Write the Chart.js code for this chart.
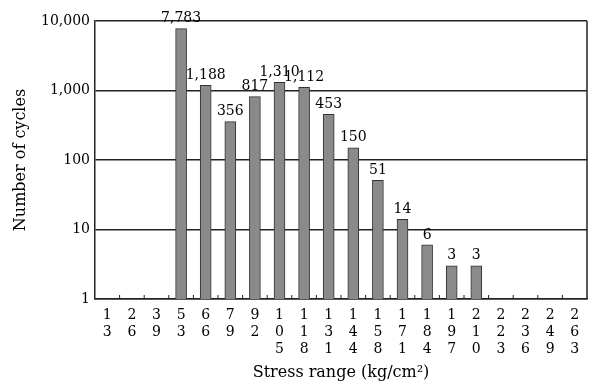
<!DOCTYPE html>
<html>
<head>
<meta charset="utf-8">
<script src="https://cdn.jsdelivr.net/npm/chart.js@4"></script>
<style>
body { margin: 0; background: #fff; }
</style>
</head>
<body>
<canvas id="myChart" width="596" height="388"></canvas>
<script>
// stress range classes (kg/cm2) and counted cycles
var stressRange = [13, 26, 39, 53, 66, 79, 92, 105, 118, 131, 144, 158, 171, 184, 197, 210, 223, 236, 249, 263];
var cycles = [null, null, null, 7783, 1188, 356, 817, 1310, 1112, 453, 150, 51, 14, 6, 3, 3, null, null, null, null];
var yTicks = [1, 10, 100, 1000, 10000];

// digits are written one under another on the x axis
var labels = stressRange.map(function (v) {
    return String(v).split("");
});

var serif = "'DejaVu Serif', serif";

var valueLabels = {
    id: 'valueLabels',
    afterDatasetsDraw: function (chart) {
        var ctx = chart.ctx;
        var meta = chart.getDatasetMeta(0);
        ctx.save();
        ctx.fillStyle = '#000';
        ctx.font = "14px " + serif;
        ctx.textAlign = 'center';
        ctx.textBaseline = 'bottom';
        meta.data.forEach(function (bar, i) {
            var v = cycles[i];
            if (v == null) return;
            ctx.fillText(v.toLocaleString('en-US'), bar.x, bar.y - 3);
        });
        ctx.restore();
    }
};

var frame = {
    id: 'frame',
    afterDraw: function (chart) {
        var ctx = chart.ctx;
        var a = chart.chartArea;
        var x = chart.scales.x;
        ctx.save();
        ctx.strokeStyle = '#222';
        ctx.lineWidth = 1.5;
        ctx.beginPath();
        ctx.moveTo(a.right, a.top);
        ctx.lineTo(a.right, a.bottom);
        ctx.stroke();
        // small inward ticks between classes
        ctx.lineWidth = 1;
        for (var i = 0; i < stressRange.length - 1; i++) {
            var px = (x.getPixelForValue(i) + x.getPixelForValue(i + 1)) / 2;
            ctx.beginPath();
            ctx.moveTo(px, a.bottom);
            ctx.lineTo(px, a.bottom - 4);
            ctx.stroke();
        }
        ctx.restore();
    }
};

new Chart(document.getElementById('myChart'), {
    type: 'bar',
    data: {
        labels: labels,
        datasets: [{
            data: cycles,
            backgroundColor: '#8a8a8a',
            borderColor: '#333',
            borderWidth: 1,
            barThickness: 11
        }]
    },
    options: {
        responsive: false,
        animation: false,
        layout: { padding: { left: 0, right: 9, top: 21, bottom: 0 } },
        plugins: {
            legend: { display: false },
            tooltip: { enabled: false }
        },
        scales: {
            x: {
                grid: { display: false },
                border: { display: true, color: '#222', width: 1.5 },
                ticks: {
                    autoSkip: false,
                    maxRotation: 0,
                    padding: 0,
                    color: '#000',
                    font: { family: serif, size: 14, lineHeight: 1.2 }
                },
                title: {
                    display: true,
                    text: 'Stress range (kg/cm²)',
                    color: '#000',
                    font: { family: serif, size: 16 },
                    padding: { top: 0, bottom: 6 }
                },
                afterFit: function (s) { s.height = 89; }
            },
            y: {
                type: 'logarithmic',
                min: 1,
                max: 10000,
                afterBuildTicks: function (s) {
                    s.ticks = yTicks.map(function (v) { return { value: v }; });
                },
                grid: { color: '#222', lineWidth: 1.5, drawTicks: false },
                border: { display: true, color: '#222', width: 1.5 },
                ticks: {
                    padding: 5,
                    color: '#000',
                    font: { family: serif, size: 14 },
                    callback: function (v) { return Number(v).toLocaleString('en-US'); }
                },
                title: {
                    display: true,
                    text: 'Number of cycles',
                    color: '#000',
                    font: { family: serif, size: 16 },
                    padding: { top: 11, bottom: 0 }
                },
                afterFit: function (s) { s.width = 95; }
            }
        }
    },
    plugins: [valueLabels, frame]
});
</script>
</body>
</html>
